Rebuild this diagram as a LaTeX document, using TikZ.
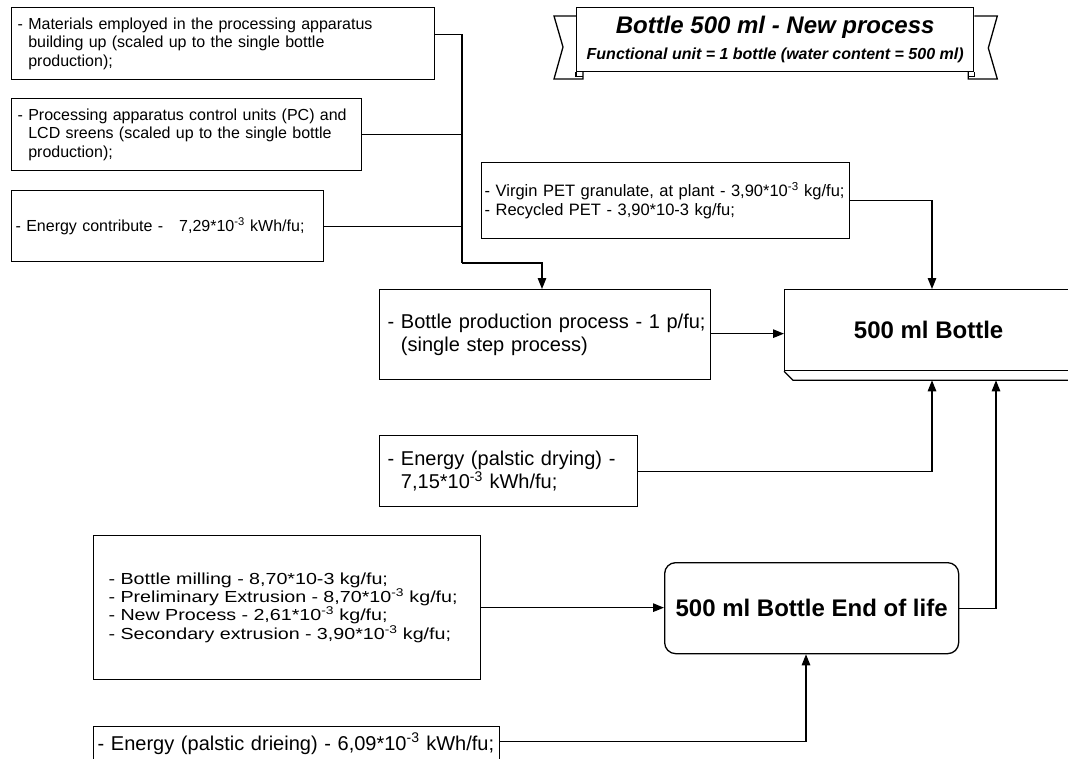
\documentclass[tikz,border=0pt]{standalone}
\usepackage{fontspec}
\setmainfont{Liberation Sans}
\newfontfamily\widefont[FakeStretch=1.23]{Liberation Sans}
\usetikzlibrary{arrows.meta,calc}
\newcommand\nb[1]{\mbox{#1}}
\begin{document}
\begin{tikzpicture}[x=1pt,y=-1pt,
  line/.style={line width=1.3pt},
  arr/.style={line width=1.3pt,-{Triangle[length=11pt,width=8.5pt]}},
  box/.style={draw,line width=1.3pt,rectangle,anchor=north west,inner ysep=0pt,align=left},
  fA/.style={font=\fontsize{16}{18.4}\selectfont},
  fP/.style={font=\fontsize{16.5}{19}\selectfont},
  fB/.style={font=\fontsize{20}{23}\selectfont},
  fW/.style={font=\widefont\fontsize{16}{18.4}\selectfont},
  big/.style={font=\fontsize{24}{28}\selectfont\bfseries},
]
\useasboundingbox (0,0) rectangle (1068,758);
\fill[white] (0,0) rectangle (1068,758);
\clip (0,0) rectangle (1068,758);

% title banner
\node[draw,line width=1.3pt,anchor=north west,minimum width=397pt,minimum height=64pt,inner sep=0pt,align=center,
      font=\fontsize{16}{26}\selectfont] (banner) at (576,7)
  {{\fontsize{24}{26}\selectfont\bfseries\itshape Bottle 500 ml - New process}\\
   {\bfseries\itshape Functional unit = 1 bottle (water content = 500 ml)}};
\draw[line] ($(banner.north west)+(0,9)$) -- ++(-22,0) -- ++(9,31) -- ++(-9,32) -- ++(29,0) -- ++(0,-8);
\draw[line] (banner.south west) -- ++(0,4) -- ++(7,0);
\draw[line] ($(banner.north east)+(0,9)$) -- ++(23,0) -- ++(-9,32) -- ++(9,31) -- ++(-29,0) -- ++(0,-8);
\draw[line] (banner.south east) -- ++(0,4) -- ++(-6,0);

% left input boxes
\node[box,fA,minimum width=423pt,minimum height=72pt,text width=411pt,inner xsep=6pt] (mat) at (11,7)
  {\nb{- Materials employed in the processing apparatus}\\
   \nb{\phantom{- }building up (scaled up to the single bottle}\\
   \nb{\phantom{- }production);}};
\node[box,fA,minimum width=350pt,minimum height=72pt,text width=338pt,inner xsep=6pt] (proc) at (11,98)
  {\nb{- Processing apparatus control units (PC) and}\\
   \nb{\phantom{- }LCD sreens (scaled up to the single bottle}\\
   \nb{\phantom{- }production);}};
\node[box,fA,minimum width=312pt,minimum height=71pt,text width=304pt,inner xsep=4pt] (en) at (11,190)
  {\nb{- Energy contribute - \ \ 7,29*10\textsuperscript{-3} kWh/fu;}};

% PET input
\node[box,fP,minimum width=368pt,minimum height=76pt,text width=362pt,inner xsep=3pt] (pet) at (481,162)
  {\nb{- Virgin PET granulate, at plant - 3,90*10\textsuperscript{-3} kg/fu;}\\
   \nb{- Recycled PET - 3,90*10-3 kg/fu;}};

% bottle production
\node[box,fB,minimum width=331pt,minimum height=90pt,text width=315pt,inner xsep=8pt] (prod) at (379,289)
  {\nb{- Bottle production process - 1 p/fu;}\\
   \nb{\phantom{- }(single step process)}};

% 500 ml bottle
\node[draw,line width=1.3pt,anchor=north west,minimum width=288pt,minimum height=81pt,inner sep=0pt,big] (bottle) at (784,289)
  {500 ml Bottle};
\draw[line] (bottle.south west) -- ++(9,9) -- ++(300,0);

% energy drying
\node[box,fB,minimum width=258pt,minimum height=71pt,text width=242pt,inner xsep=8pt] (dry) at (379,435)
  {\nb{- Energy (palstic drying) -}\\
   \nb{\phantom{- }7,15*10\textsuperscript{-3} kWh/fu;}};

% end of life inputs
\node[box,fW,minimum width=387pt,minimum height=144pt,text width=357pt,inner xsep=15pt] (bp) at (93,535)
  {\nb{- Bottle milling - 8,70*10-3 kg/fu;}\\
   \nb{- Preliminary Extrusion - 8,70*10\textsuperscript{-3} kg/fu;}\\
   \nb{- New Process - 2,61*10\textsuperscript{-3} kg/fu;}\\
   \nb{- Secondary extrusion - 3,90*10\textsuperscript{-3} kg/fu;}};

\node[draw,line width=1.3pt,rounded corners=11pt,anchor=north west,minimum width=294pt,minimum height=91pt,inner sep=0pt,big] (eol) at (664,562)
  {500 ml Bottle End of life};

\node[box,fB,minimum width=406pt,minimum height=34pt,text width=398pt,inner xsep=4pt] (dr2) at (93,726)
  {\nb{- Energy (palstic drieing) - 6,09*10\textsuperscript{-3} kWh/fu;}};

% connectors
\coordinate (bx) at (462,263);
\coordinate (px) at (542,0);
\coordinate (c1) at (932,0);
\coordinate (c2) at (996,0);
\coordinate (c3) at (806,0);
\coordinate (lipA) at ($(c1 |- bottle.south)+(0,9)$);
\coordinate (lipB) at ($(c2 |- bottle.south)+(0,9)$);

\draw[line] ([yshift=9pt]mat.east) -| (bx);
\draw[line] (proc.east) -- (proc.east -| bx);
\draw[line] (en.east) -- (en.east -| bx);
\draw[arr] (bx) -| (px |- prod.north);

\draw[arr] (pet.east) -| (c1 |- bottle.north);
\draw[arr] ([yshift=1pt]prod.east) -- ([yshift=1pt]prod.east -| bottle.west);
\draw[arr] (dry.east) -| (lipA);
\draw[arr] (eol.east) -| (lipB);
\draw[arr] (bp.east) -- (bp.east -| eol.west);
\draw[arr] ([yshift=2pt]dr2.east) -| (c3 |- eol.south);
\end{tikzpicture}
\end{document}
